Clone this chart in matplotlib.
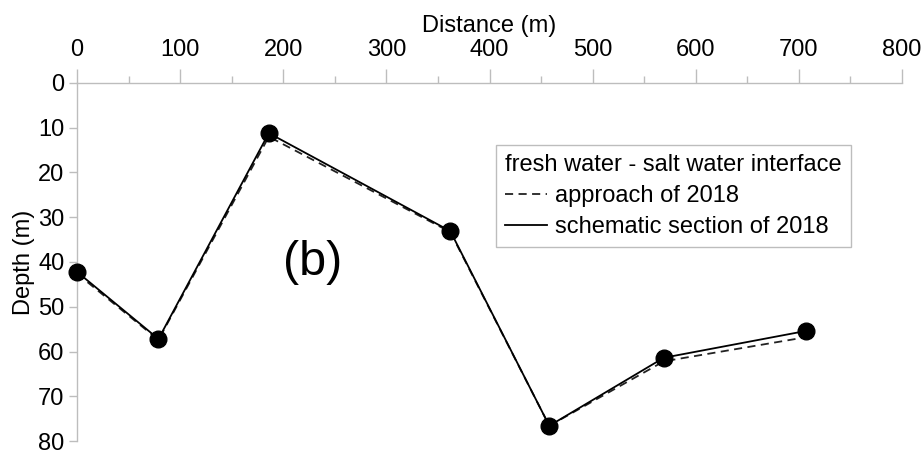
import matplotlib
matplotlib.use("Agg")
import matplotlib.pyplot as plt
from matplotlib.ticker import MultipleLocator

plt.rcParams['font.family'] = ['Liberation Sans', 'DejaVu Sans']

distance = [0, 79, 186, 362, 458, 569, 707]
depth_schematic = [42.2, 57.2, 11.2, 33.1, 76.6, 61.4, 55.4]
depth_approach = [42.6, 57.4, 12.0, 33.3, 76.6, 62.2, 56.8]

legend_title = "fresh water - salt water interface"
label_approach = "approach of 2018"
label_schematic = "schematic section of 2018"

W, H = 923, 457
fig = plt.figure(figsize=(W / 100, H / 100), dpi=100)
ax = fig.add_axes([77 / W, 1 - 441 / H, 825 / W, 358 / H])

gray = '#bdbdbd'
FS = 17
ax.plot(distance, depth_approach, color='#222222', lw=1.3, ls=(0, (4.5, 3)),
        label=label_approach, zorder=2, clip_on=False)
ax.plot(distance, depth_schematic, color='black', lw=1.3, ls='-',
        label=label_schematic, zorder=3, clip_on=False)
ax.plot(distance, depth_schematic, ls='none', marker='o', ms=12,
        color='black', zorder=4, clip_on=False)

ax.set_xlim(0, 800)
ax.set_ylim(80, 0)
ax.xaxis.set_ticks_position('top')
ax.xaxis.set_label_position('top')
ax.xaxis.set_major_locator(MultipleLocator(100))
ax.xaxis.set_minor_locator(MultipleLocator(50))
ax.yaxis.set_major_locator(MultipleLocator(10))

for s in ['right', 'bottom']:
    ax.spines[s].set_visible(False)
for s in ['left', 'top']:
    ax.spines[s].set_color(gray)
    ax.spines[s].set_linewidth(1.0)

ax.tick_params(axis='x', which='major', direction='out', length=10, width=1.0,
               color=gray, labelsize=FS, pad=6)
ax.tick_params(axis='x', which='minor', direction='out', length=5, width=1.0,
               color=gray)
ax.tick_params(axis='y', which='major', direction='out', length=6, width=1.0,
               color=gray, labelsize=FS, pad=3)

ax.set_xlabel("Distance (m)", fontsize=FS, labelpad=5)
ax.set_ylabel("Depth (m)", fontsize=FS, labelpad=2)

ax.text(228, 40.2, "(b)", fontsize=35, ha='center', va='center')

leg = ax.legend(title=legend_title, loc='upper left',
                bbox_to_anchor=(496 / W, 1 - 145 / H),
                bbox_transform=fig.transFigure,
                fontsize=FS, title_fontsize=FS, frameon=True, fancybox=False,
                edgecolor=gray, framealpha=1, handlelength=1.8,
                handletextpad=0.3, labelspacing=0.38, borderpad=0.38,
                borderaxespad=0)
leg._legend_box.align = 'left'
leg.get_frame().set_linewidth(1.0)

fig.savefig("out.png", dpi=100)
